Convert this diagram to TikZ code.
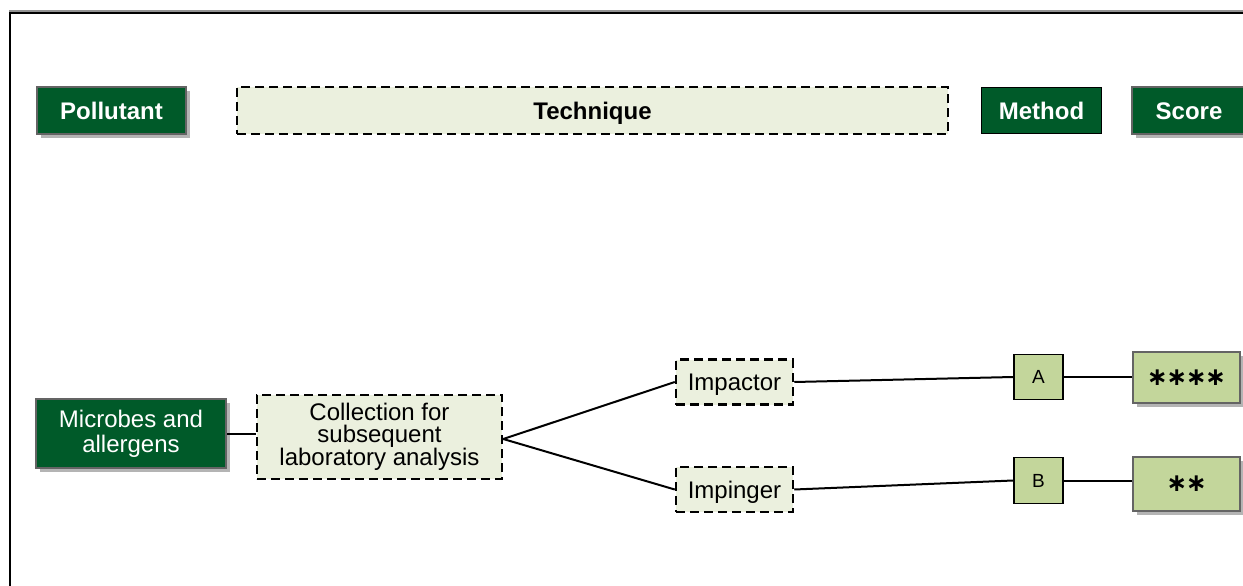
\documentclass[tikz,border=0pt]{standalone}
\usepackage{fontspec}
\setmainfont{Liberation Sans}
\newfontfamily\symfont{DejaVu Sans}
\usetikzlibrary{shadows}

\definecolor{deepgreen}{RGB}{0,90,41}
\definecolor{palegreen}{RGB}{195,214,155}
\definecolor{dashfill}{RGB}{235,240,222}
\definecolor{rimgray}{RGB}{100,100,100}
\definecolor{shadegray}{RGB}{180,180,180}

\tikzset{
  base/.style={rectangle, inner sep=0pt, align=center,
    font=\fontsize{24}{25}\selectfont},
  oneline/.style={text height=17pt, text depth=0pt},
  shade/.style={drop shadow={shadow xshift=4pt, shadow yshift=-4pt,
    fill=shadegray, opacity=1}},
  headbox/.style={base, oneline, fill=deepgreen, text=white,
    font=\fontsize{24}{25}\selectfont\bfseries},
  greenbox/.style={base, fill=deepgreen, text=white, draw=rimgray,
    line width=2pt, shade},
  dashbox/.style={base, fill=dashfill, draw=black, line width=2.5pt,
    dash pattern=on 9pt off 5pt},
  letterbox/.style={base, oneline, text height=13pt, fill=palegreen, draw=black,
    line width=1.8pt, font=\fontsize{19}{20}\selectfont},
  scorebox/.style={base, fill=palegreen, draw=rimgray, line width=2.5pt,
    shade, font=\fontsize{25}{25}\selectfont\symfont\bfseries},
  link/.style={draw=black, line width=2pt}
}

\begin{document}
\begin{tikzpicture}[x=1pt, y=-1pt]
  \useasboundingbox (0,0) rectangle (1243,586);
  \clip (0,0) rectangle (1243,586);

  % outer frame (top and left edges)
  \draw[line width=1.2pt, draw=rimgray!70] (9,11) -- (1250,11);
  \draw[line width=2.5pt, line cap=rect] (10,13) -- (1250,13);
  \draw[line width=2.5pt, line cap=rect] (10,13) -- (10,600);

  % column headings
  \node[headbox, draw=rimgray, line width=2pt, shade,
        minimum width=149pt, minimum height=47pt] (pol) at (111.5,110.5) {Pollutant};
  \node[dashbox, oneline, font=\fontsize{24}{25}\selectfont\bfseries,
        minimum width=711pt, minimum height=47pt] (tech) at (592.5,110.5) {Technique};
  \node[headbox, draw=black, line width=1.6pt,
        minimum width=120pt, minimum height=46pt] (meth) at (1041.5,110.5) {Method};
  \node[headbox, draw=rimgray, line width=2pt, shade,
        minimum width=130pt, minimum height=46pt] (score) at (1197,110.5) {\hspace*{-16pt}Score};

  % pollutant and collection technique
  \node[greenbox, minimum width=190pt, minimum height=69pt] (mic) at (131,433.5)
       {Microbes and\\allergens};
  \node[dashbox, minimum width=245pt, minimum height=84pt,
        font=\fontsize{24}{22}\selectfont] (coll) at (379.5,437)
       {Collection for\\subsequent\\laboratory analysis};

  % samplers
  \node[dashbox, oneline, minimum width=117pt, minimum height=45pt] (impc) at (734.5,382) {Impactor};
  \node[dashbox, oneline, minimum width=117pt, minimum height=45pt] (impg) at (734.5,489.5) {Impinger};

  % methods
  \node[letterbox, minimum width=49pt, minimum height=45pt] (ma) at (1038.5,377) {A};
  \node[letterbox, minimum width=49pt, minimum height=46pt] (mb) at (1038.5,480.5) {B};

  % scores
  \node[scorebox, minimum width=107pt, minimum height=51pt] (sa) at (1186.5,377.5)
       {∗\hspace{-1.5pt}∗\hspace{-1.5pt}∗\hspace{-1.5pt}∗};
  \node[scorebox, minimum width=107pt, minimum height=54pt] (sb) at (1186.5,484)
       {∗\hspace{-1.5pt}∗};

  % connectors
  \path[link] (mic.east) -- (mic.east -| coll.west);
  \path[link] ([yshift=-2pt]coll.east) -- (impc.west);
  \path[link] ([yshift=-2pt]coll.east) -- (impg.west);
  \path[link] (impc.east) -- (ma.west);
  \path[link] (impg.east) -- (mb.west);
  \path[link] (ma.east) -- (ma.east -| sa.west);
  \path[link] (mb.east) -- (mb.east -| sb.west);
\end{tikzpicture}
\end{document}
